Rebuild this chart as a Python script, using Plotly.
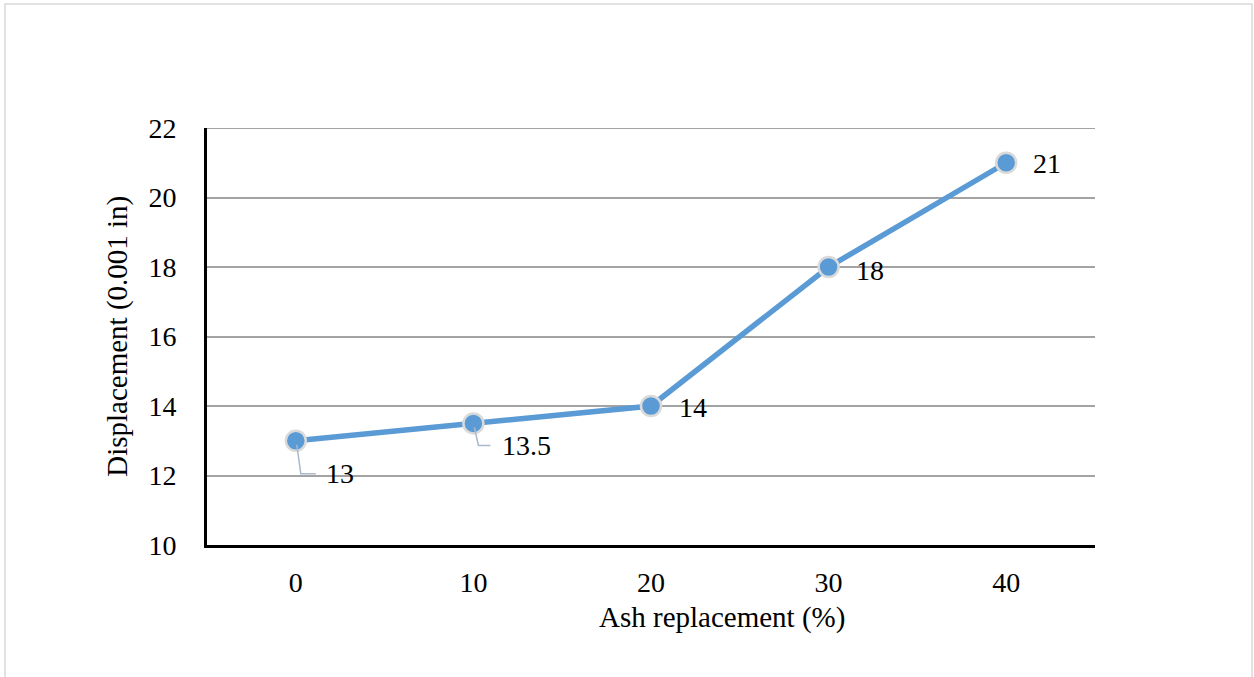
import plotly.graph_objects as go

ash_pct = [0, 10, 20, 30, 40]
displacement = [13, 13.5, 14, 18, 21]
x_tick_labels = ["0", "10", "20", "30", "40"]
y_ticks = [10, 12, 14, 16, 18, 20, 22]

FONT = "Liberation Serif, Times New Roman, serif"
BLUE = "#5B9BD5"
GRID = "#A3A3A3"
TXT = 28

fig = go.Figure()
fig.add_trace(go.Scatter(
    x=ash_pct, y=displacement, mode="lines+markers",
    line=dict(color=BLUE, width=5.5),
    marker=dict(size=20, color=BLUE, line=dict(color="#DADADA", width=2.5)),
    hoverinfo="x+y", showlegend=False,
))

# label offsets (pixels) and whether an elbow leader line is drawn
label_offsets = [(44, -33, True), (53, -22, True), (42, -1, False), (41, -3, False), (41, -1, False)]
for xv, yv, (dx, dy, leader) in zip(ash_pct, displacement, label_offsets):
    txt = f"{yv:g}"
    fig.add_annotation(x=xv, y=yv, xref="x", yref="y", text=txt, showarrow=False,
                       xshift=dx, yshift=dy, font=dict(family=FONT, size=TXT, color="#000"))
    if leader:
        hx = dx - 24 if len(txt) == 2 else dx - 36
        fig.add_shape(type="path", xref="x", yref="y", xsizemode="pixel", ysizemode="pixel",
                      xanchor=xv, yanchor=yv,
                      path=f"M 1,-4 L 5,{dy} L {hx},{dy}",
                      line=dict(color="#A9B8CC", width=1.5), layer="above")

# gridline at the top of the value axis
fig.add_shape(type="line", xref="paper", yref="y", x0=0, x1=1, y0=y_ticks[-1], y1=y_ticks[-1],
              line=dict(color=GRID, width=2), layer="below")

# axis titles
fig.add_annotation(x=0.58, y=-0.175, xref="paper", yref="paper", text="Ash replacement (%)",
                   xanchor="center", yanchor="middle", showarrow=False,
                   font=dict(family=FONT, size=29, color="#000"))
fig.add_annotation(x=-0.101, y=0.5, xref="paper", yref="paper", text="Displacement (0.001 in)",
                   textangle=-90, xanchor="center", yanchor="middle", showarrow=False,
                   font=dict(family=FONT, size=29, color="#000"))

# outer frame of the chart area
fig.add_shape(type="rect", xref="paper", yref="paper", x0=-0.2275, x1=1.1768, y0=-0.33, y1=1.2974,
              line=dict(color="#D9D9D9", width=1.5), fillcolor="rgba(0,0,0,0)")

fig.update_layout(
    width=1254, height=677,
    margin=dict(l=207, r=159, t=128, b=132),
    paper_bgcolor="white", plot_bgcolor="white",
    font=dict(family=FONT, size=TXT, color="#000"),
    xaxis=dict(range=[-5, 45], tickvals=ash_pct, ticktext=x_tick_labels, showgrid=False,
               zeroline=False, showline=True, linecolor="#000", linewidth=3, ticks="",
               ticklabelstandoff=10,
               tickfont=dict(family=FONT, size=TXT, color="#000")),
    yaxis=dict(range=[10, 22], tickvals=y_ticks, showgrid=True, gridcolor=GRID, gridwidth=2,
               zeroline=False, showline=True, linecolor="#000", linewidth=3, ticks="",
               ticklabelstandoff=22,
               tickfont=dict(family=FONT, size=TXT, color="#000")),
)

fig.write_html("out.html")
